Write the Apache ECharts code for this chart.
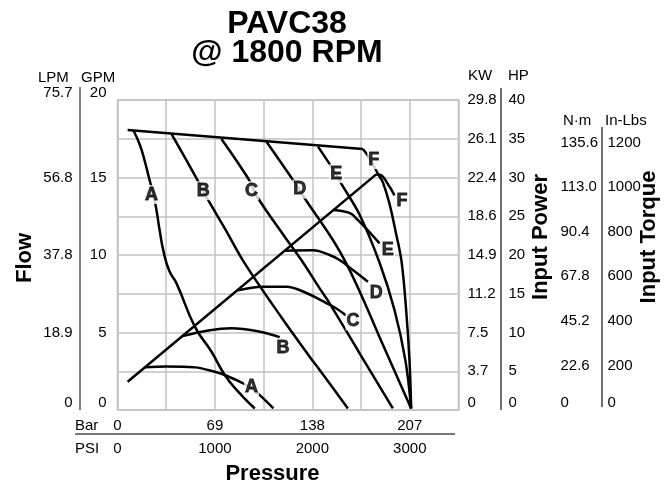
<!DOCTYPE html>
<html>
<head>
<meta charset="utf-8">
<script src="https://cdn.jsdelivr.net/npm/echarts@6/dist/echarts.min.js"></script>
<style>html,body{margin:0;padding:0;background:#fff}#c{width:672px;height:487px}</style>
</head>
<body>
<div id="c"></div>
<script>
// ---- tick labels ----
const barLabels = ['0', '69', '138', '207'];
const psiLabels = ['0', '1000', '2000', '3000'];
const gpmLabels = ['0', '5', '10', '15', '20'];
const lpmLabels = ['0', '18.9', '37.8', '56.8', '75.7'];
const hpLabels = ['0', '5', '10', '15', '20', '25', '30', '35', '40'];
const kwLabels = ['0', '3.7', '7.5', '11.2', '14.9', '18.6', '22.4', '26.1', '29.8'];
const inLbsLabels = ['0', '200', '400', '600', '800', '1000', '1200'];
const nmLabels = ['0', '22.6', '45.2', '67.8', '90.4', '113.0', '135.6'];

// ---- flow curves: [PSI, GPM] ----
const maxFlow = [[104, 18.06], [2518, 16.84]];
const flowA = [[162, 18.05], [230, 17.1], [282, 16.0], [316, 15.16], [384, 13.44], [435, 11.5], [470, 10.3], [530, 9.0], [606, 8.17], [794, 5.38], [965, 3.76], [1101, 2.26], [1255, 1.07], [1409, 0.1]];
const flowB = [[555, 17.8], [811, 14.95], [930, 13.55], [1101, 11.72], [1306, 9.46], [1680, 6.0], [1972, 3.44], [2075, 2.58], [2365, 0.1]];
const flowC = [[1067, 17.49], [1340, 14.95], [1443, 13.66], [1716, 11.18], [1887, 9.68], [2075, 7.85], [2177, 6.88], [2485, 3.66], [2826, 0.1]];
const flowD = [[1529, 17.31], [1801, 14.84], [1921, 13.66], [2211, 10.97], [2348, 9.46], [2518, 7.2], [2690, 4.7], [3014, 0.1]];
const flowE = [[2058, 16.99], [2246, 15.2], [2297, 14.6], [2485, 12.6], [2690, 9.5], [2843, 6.45], [2955, 3.2], [3014, 0.1]];
const flowF = [[2518, 16.84], [2553, 16.56], [2600, 16.1], [2680, 15.16], [2723, 14.7], [2792, 13.3], [2855, 11.5], [2915, 9.6], [2962, 6.5], [2997, 3.2], [3014, 0.1]];

// ---- input power curves: [PSI, HP] ----
const maxPower = [[104, 3.65], [2655, 30.4]];
const powerA = [[282, 5.5], [500, 5.6], [794, 5.5], [999, 4.94], [1101, 4.52], [1306, 3.35], [1375, 2.8], [1477, 1.72], [1600, 0.2]];
const powerB = [[658, 9.5], [948, 10.3], [1170, 10.54], [1460, 10.1], [1665, 9.4]];
const powerC = [[1221, 15.4], [1494, 15.9], [1734, 15.9], [1939, 15.1], [2143, 13.8], [2246, 13.1], [2348, 12.2]];
const powerD = [[1716, 20.55], [2006, 20.6], [2177, 20.0], [2280, 19.35], [2416, 18.06], [2570, 16.55]];
const powerE = [[2212, 25.8], [2387, 25.4], [2468, 24.5], [2553, 23.4], [2690, 21.5]];
const powerF = [[2655, 30.4], [2706, 30.3], [2792, 28.8], [2843, 27.7]];

// ---- curve labels ----
const flowLabelNames = ['A', 'B', 'C', 'D', 'E', 'F'];
const flowLabelPos = [[350, 13.9], [879, 14.15], [1375, 14.15], [1870, 14.25], [2246, 15.25], [2630, 16.15]];
const powerLabelNames = ['A', 'B', 'C', 'D', 'E', 'F'];
const powerLabelPos = [[1375, 2.9], [1699, 7.96], [2417, 11.5], [2655, 15.1], [2775, 20.6], [2920, 26.9]];

const FONT = '"Liberation Sans", Arial, sans-serif';
const GRIDC = '#c2c2c2';

function pick(arr, v, step) {
  const i = v / step;
  if (Math.abs(i - Math.round(i)) > 1e-6) return '';
  return arr[Math.round(i)] !== undefined ? arr[Math.round(i)] : '';
}

function curve(data, yIdx, sm) {
  return {
    type: 'line', data: data, xAxisIndex: 0, yAxisIndex: yIdx,
    showSymbol: false, symbol: 'none', smooth: sm === undefined ? 0.35 : sm, silent: true, z: 2,
    lineStyle: { color: '#000', width: 2.5 }
  };
}
function labels(names, pos, yIdx) {
  return {
    type: 'scatter', xAxisIndex: 0, yAxisIndex: yIdx, symbolSize: 1, silent: true, z: 10,
    itemStyle: { color: 'rgba(0,0,0,0)' },
    data: pos.map((p, i) => ({ name: names[i], value: p })),
    label: {
      show: true, position: 'inside', formatter: '{b}', fontSize: 18, fontWeight: 'bold',
      color: '#000', textBorderWidth: 0.8, textBorderColor: '#000',
      backgroundColor: '#fff', padding: [1, 1, 0, 1], fontFamily: FONT
    }
  };
}

const tickLabelStyle = { fontSize: 15, color: '#000', fontFamily: FONT };
const hiddenLine = { show: false };
const axisTitle = { fontSize: 22, fontWeight: 'bold', color: '#000', fontFamily: FONT };
function hdr(x, y, text) {
  return { type: 'text', silent: true, x: x, y: y, style: { text: text, fill: '#000', font: '15px ' + FONT, align: 'left', verticalAlign: 'middle', textAlign: 'left', textVerticalAlign: 'middle' } };
}

const option = {
  animation: false,
  backgroundColor: '#fff',
  textStyle: { fontFamily: FONT },
  title: {
    text: 'PAVC38\n@ 1800 RPM', left: 282, top: 5, textAlign: 'center',
    textStyle: { fontSize: 32, fontWeight: 'bold', lineHeight: 29, color: '#000', fontFamily: FONT }
  },
  grid: { left: 117.5, top: 100, width: 341, height: 310, show: true, borderColor: GRIDC, borderWidth: 1.5, containLabel: false, outerBoundsMode: 'none' },
  xAxis: [
    {
      type: 'value', min: 0, max: 3500, interval: 500, position: 'bottom',
      axisLine: hiddenLine, axisTick: hiddenLine,
      splitLine: { show: true, lineStyle: { color: GRIDC, width: 1.5 } },
      axisLabel: Object.assign({ margin: 8, formatter: v => pick(barLabels, v, 1000) }, tickLabelStyle)
    },
    {
      type: 'value', min: 0, max: 3500, interval: 500, position: 'bottom', offset: 23,
      axisLine: hiddenLine, axisTick: hiddenLine, splitLine: hiddenLine,
      axisLabel: Object.assign({ margin: 8, formatter: v => pick(psiLabels, v, 1000) }, tickLabelStyle),
      name: 'Pressure', nameLocation: 'middle', nameGap: 30, nameMoveOverlap: false,
      nameTextStyle: Object.assign({ padding: [0, 31, 0, 0] }, axisTitle)
    }
  ],
  yAxis: [
    {
      type: 'value', min: 0, max: 20, interval: 2.5, position: 'left',
      axisLine: hiddenLine, axisTick: hiddenLine,
      splitLine: { show: true, lineStyle: { color: GRIDC, width: 1.5 } },
      axisLabel: Object.assign({ margin: 11, formatter: v => pick(gpmLabels, v, 5), verticalAlignMinLabel: 'bottom', verticalAlignMaxLabel: 'bottom' }, tickLabelStyle)
    },
    {
      type: 'value', min: 0, max: 20, interval: 2.5, position: 'left', offset: 34,
      axisLine: hiddenLine, axisTick: hiddenLine, splitLine: hiddenLine,
      axisLabel: Object.assign({ margin: 11, formatter: v => pick(lpmLabels, v, 5), verticalAlignMinLabel: 'bottom', verticalAlignMaxLabel: 'bottom' }, tickLabelStyle),
      name: 'Flow', nameLocation: 'middle', nameGap: 48, nameRotate: 90, nameMoveOverlap: false,
      nameTextStyle: Object.assign({ padding: [0, 6, 0, 0] }, axisTitle)
    },
    {
      type: 'value', min: 0, max: 40, interval: 5, position: 'right', offset: 42,
      axisLine: hiddenLine, axisTick: hiddenLine, splitLine: hiddenLine,
      axisLabel: Object.assign({ margin: 8, formatter: v => pick(hpLabels, v, 5), verticalAlignMinLabel: 'bottom' }, tickLabelStyle),
      name: 'Input Power', nameLocation: 'middle', nameGap: 29, nameRotate: 90, nameMoveOverlap: false,
      nameTextStyle: Object.assign({ padding: [0, 0, 0, 36] }, axisTitle)
    },
    {
      type: 'value', min: 0, max: 40, interval: 5, position: 'right', offset: 0,
      axisLine: hiddenLine, axisTick: hiddenLine, splitLine: hiddenLine,
      axisLabel: Object.assign({ margin: 9, formatter: v => pick(kwLabels, v, 5), verticalAlignMinLabel: 'bottom' }, tickLabelStyle)
    },
    {
      type: 'value', min: 0, max: 1390, interval: 200, position: 'right', offset: 141,
      axisLine: hiddenLine, axisTick: hiddenLine, splitLine: hiddenLine,
      axisLabel: Object.assign({ margin: 8, showMaxLabel: false, formatter: v => pick(inLbsLabels, v, 200), verticalAlignMinLabel: 'bottom' }, tickLabelStyle),
      name: 'Input Torque', nameLocation: 'middle', nameGap: 38, nameRotate: 90, nameMoveOverlap: false,
      nameTextStyle: Object.assign({ padding: [0, 0, 0, 36] }, axisTitle)
    },
    {
      type: 'value', min: 0, max: 1390, interval: 200, position: 'right', offset: 94,
      axisLine: hiddenLine, axisTick: hiddenLine, splitLine: hiddenLine,
      axisLabel: Object.assign({ margin: 8, showMaxLabel: false, formatter: v => pick(nmLabels, v, 200), verticalAlignMinLabel: 'bottom' }, tickLabelStyle)
    }
  ],
  graphic: [
    { type: 'line', silent: true, shape: { x1: 80, y1: 87, x2: 80, y2: 410 }, style: { stroke: '#555', lineWidth: 1.5 } },
    { type: 'line', silent: true, shape: { x1: 501, y1: 88, x2: 501, y2: 410 }, style: { stroke: '#111', lineWidth: 1.2 } },
    { type: 'line', silent: true, shape: { x1: 602, y1: 127, x2: 602, y2: 407 }, style: { stroke: '#111', lineWidth: 1.2 } },
    { type: 'line', silent: true, shape: { x1: 75, y1: 434, x2: 455, y2: 434 }, style: { stroke: '#777', lineWidth: 2 } },
    hdr(38, 78, 'LPM'), hdr(81, 78, 'GPM'), hdr(468, 76, 'KW'), hdr(508, 76, 'HP'),
    hdr(563, 121, 'N·m'), hdr(605, 121, 'In-Lbs'), hdr(75, 426, 'Bar'), hdr(75, 449, 'PSI')
  ],
  series: [
    curve(maxFlow, 0), curve(flowA, 0, 0.5), curve(flowB, 0), curve(flowC, 0),
    curve(flowD, 0), curve(flowE, 0), curve(flowF, 0),
    curve(maxPower, 2), curve(powerA, 2), curve(powerB, 2), curve(powerC, 2),
    curve(powerD, 2), curve(powerE, 2), curve(powerF, 2),
    labels(flowLabelNames, flowLabelPos, 0),
    labels(powerLabelNames, powerLabelPos, 2)
  ]
};

const chart = echarts.init(document.getElementById('c'), null, { renderer: 'canvas' });
chart.setOption(option);
</script>
</body>
</html>
